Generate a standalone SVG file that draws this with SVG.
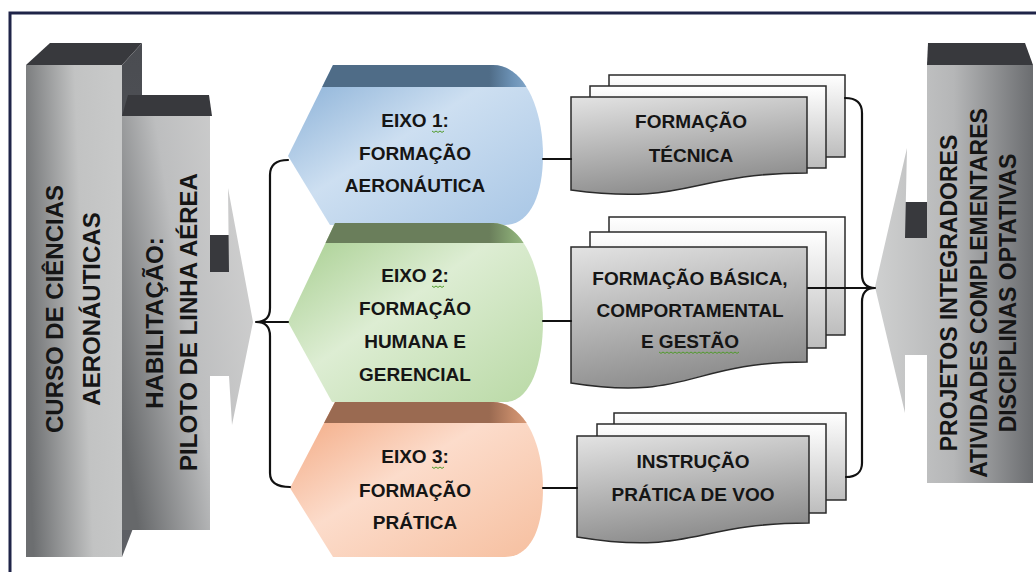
<svg xmlns="http://www.w3.org/2000/svg" width="1036" height="572" viewBox="0 0 1036 572">
<defs>
<style>
.t{font-family:"Liberation Sans",Arial,sans-serif;font-weight:700;fill:#151515;text-anchor:middle}
.hx{font-size:19px}
.lv{font-size:24px}
.rv{font-size:23px}
.top{fill:#38393d}
.doc{stroke:#2a2a2a;stroke-width:1.5}
.con{fill:none;stroke:#111;stroke-width:2.2;stroke-linecap:round}
.sq{fill:none;stroke:#4f9a2a;stroke-width:1}
</style>
<linearGradient id="gCurso" x1="0" y1="0.6" x2="1" y2="0.4">
<stop offset="0" stop-color="#6c6e70"/><stop offset="0.6" stop-color="#c2c3c3"/><stop offset="1" stop-color="#c8c9c9"/>
</linearGradient>
<linearGradient id="gSide" x1="0" y1="0" x2="0" y2="1">
<stop offset="0" stop-color="#4a4c51"/><stop offset="1" stop-color="#5e6065"/>
</linearGradient>
<linearGradient id="gHab" x1="0" y1="0.75" x2="1" y2="0.25">
<stop offset="0" stop-color="#66686a"/><stop offset="0.5" stop-color="#bdbebf"/><stop offset="1" stop-color="#d0d0d0"/>
</linearGradient>
<linearGradient id="gRight" x1="0" y1="0" x2="1" y2="0">
<stop offset="0" stop-color="#cfd0d0"/><stop offset="0.5" stop-color="#b5b6b7"/><stop offset="1" stop-color="#6b6d70"/>
</linearGradient>
<linearGradient id="gH1" x1="0" y1="0" x2="1" y2="1">
<stop offset="0" stop-color="#82abd4"/><stop offset="0.45" stop-color="#cddff1"/><stop offset="1" stop-color="#a8c6e5"/>
</linearGradient>
<linearGradient id="gB1" x1="0" y1="0" x2="1" y2="0">
<stop offset="0" stop-color="#4f6c87"/><stop offset="0.78" stop-color="#4f6c87"/><stop offset="0.87" stop-color="#6d93b7"/><stop offset="1" stop-color="#9cbfe0"/>
</linearGradient>
<linearGradient id="gH2" x1="0" y1="0" x2="1" y2="1">
<stop offset="0" stop-color="#a1cb88"/><stop offset="0.45" stop-color="#ddedd3"/><stop offset="1" stop-color="#b9d9a5"/>
</linearGradient>
<linearGradient id="gB2" x1="0" y1="0" x2="1" y2="0">
<stop offset="0" stop-color="#6a7e5b"/><stop offset="0.78" stop-color="#6a7e5b"/><stop offset="0.87" stop-color="#88a874"/><stop offset="1" stop-color="#b3d49d"/>
</linearGradient>
<linearGradient id="gH3" x1="0" y1="0" x2="1" y2="1">
<stop offset="0" stop-color="#f2a47b"/><stop offset="0.45" stop-color="#fcdccb"/><stop offset="1" stop-color="#f6bf9f"/>
</linearGradient>
<linearGradient id="gB3" x1="0" y1="0" x2="1" y2="0">
<stop offset="0" stop-color="#9a6a51"/><stop offset="0.78" stop-color="#9a6a51"/><stop offset="0.87" stop-color="#c58a69"/><stop offset="1" stop-color="#f0b08c"/>
</linearGradient>
<linearGradient id="gFront" x1="0" y1="0" x2="0.3" y2="1">
<stop offset="0" stop-color="#e3e3e3"/><stop offset="1" stop-color="#8e8e8e"/>
</linearGradient>
<linearGradient id="gBack" x1="0" y1="0" x2="0" y2="1">
<stop offset="0" stop-color="#ffffff"/><stop offset="1" stop-color="#bdbdbd"/>
</linearGradient>
<clipPath id="c1"><path d="M333,65 L493,65 C525,65 543,110 543,155 C543,195 530,225 505,225 L330,225 L288,156 Z"/></clipPath>
<clipPath id="c2"><path d="M335,223 L493,223 C525,223 543,275 543,321 C543,365 530,402 505,402 L332,402 L288,322 Z"/></clipPath>
<clipPath id="c3"><path d="M335,402 L493,402 C525,402 543,445 543,488 C543,530 530,557 505,557 L333,557 L290,488 Z"/></clipPath>
</defs>
<rect x="0" y="0" width="1036" height="572" fill="#ffffff"/>
<path d="M10,572 V13 H1036" fill="none" stroke="#1f2448" stroke-width="3"/>

<g id="curso">
<polygon class="top" points="26,65 50,43 142,43 122,65"/>
<polygon points="122,65 142,43 142,505 122,557" fill="url(#gSide)"/>
<rect x="26" y="65" width="96" height="492" fill="url(#gCurso)"/>
<text class="t lv" transform="translate(63,309) rotate(-90)">CURSO DE CIÊNCIAS</text>
<text class="t lv" transform="translate(100,309) rotate(-90)">AERONÁUTICAS</text>
</g>

<g id="habilitacao">
<polygon class="top" points="122,116 128,95 209,95 212,116"/>
<rect x="210" y="235" width="21" height="37" fill="#38393d"/>
<polygon points="122,116 210,116 210,272 229,272 228,188 253,322 232,425 229,376 210,376 210,530 122,530" fill="url(#gHab)"/>
<text class="t lv" transform="translate(163,323) rotate(-90)">HABILITAÇÃO:</text>
<text class="t lv" transform="translate(197,322) rotate(-90)">PILOTO DE LINHA AÉREA</text>
</g>

<g id="eixo1">
<path d="M333,65 L493,65 C525,65 543,110 543,155 C543,195 530,225 505,225 L330,225 L288,156 Z" fill="url(#gH1)"/>
<rect x="285" y="63" width="262" height="24" fill="url(#gB1)" clip-path="url(#c1)"/>
<text class="t hx" x="415" y="127">EIXO 1:</text>
<text class="t hx" x="415" y="160">FORMAÇÃO</text>
<text class="t hx" x="415" y="192">AERONÁUTICA</text>
<path class="sq" d="M432,131 l2,1.4 l2,-1.4 l2,1.4 l2,-1.4 l2,1.4 l2,-1.4"/>
</g>

<g id="eixo2">
<path d="M335,223 L493,223 C525,223 543,275 543,321 C543,365 530,402 505,402 L332,402 L288,322 Z" fill="url(#gH2)"/>
<rect x="285" y="221" width="262" height="22" fill="url(#gB2)" clip-path="url(#c2)"/>
<text class="t hx" x="415" y="282">EIXO 2:</text>
<text class="t hx" x="415" y="315">FORMAÇÃO</text>
<text class="t hx" x="415" y="348">HUMANA E</text>
<text class="t hx" x="415" y="381">GERENCIAL</text>
<path class="sq" d="M432,286 l2,1.4 l2,-1.4 l2,1.4 l2,-1.4 l2,1.4 l2,-1.4"/>
</g>

<g id="eixo3">
<path d="M335,402 L493,402 C525,402 543,445 543,488 C543,530 530,557 505,557 L333,557 L290,488 Z" fill="url(#gH3)"/>
<rect x="285" y="400" width="262" height="23" fill="url(#gB3)" clip-path="url(#c3)"/>
<text class="t hx" x="415" y="463">EIXO 3:</text>
<text class="t hx" x="415" y="497">FORMAÇÃO</text>
<text class="t hx" x="415" y="529">PRÁTICA</text>
<path class="sq" d="M432,467 l2,1.4 l2,-1.4 l2,1.4 l2,-1.4 l2,1.4 l2,-1.4"/>
</g>

<g id="doc1">
<rect class="doc" x="609" y="75" width="236" height="82" fill="url(#gBack)"/>
<rect class="doc" x="590" y="86" width="236" height="82" fill="url(#gBack)"/>
<path class="doc" d="M571,97 H807 V173 C689,173 689,206 571,190 Z" fill="url(#gFront)"/>
<text class="t hx" x="691" y="128">FORMAÇÃO</text>
<text class="t hx" x="691" y="162">TÉCNICA</text>
</g>

<g id="doc2">
<rect class="doc" x="609" y="217" width="236" height="118" fill="url(#gBack)"/>
<rect class="doc" x="590" y="232" width="236" height="116" fill="url(#gBack)"/>
<path class="doc" d="M571,247 H807 V362 C689,362 689,402 571,383 Z" fill="url(#gFront)"/>
<text class="t hx" x="690" y="285">FORMAÇÃO BÁSICA,</text>
<text class="t hx" x="690" y="317">COMPORTAMENTAL</text>
<text class="t hx" x="690" y="348">E GESTÃO</text>
<path class="sq" d="M659,352 l2,1.4 l2,-1.4 l2,1.4 l2,-1.4 l2,1.4 l2,-1.4 l2,1.4 l2,-1.4 l2,1.4 l2,-1.4 l2,1.4 l2,-1.4 l2,1.4 l2,-1.4 l2,1.4 l2,-1.4 l2,1.4 l2,-1.4 l2,1.4 l2,-1.4 l2,1.4 l2,-1.4 l2,1.4 l2,-1.4 l2,1.4 l2,-1.4 l2,1.4 l2,-1.4 l2,1.4 l2,-1.4 l2,1.4 l2,-1.4 l2,1.4 l2,-1.4 l2,1.4 l2,-1.4 l2,1.4 l2,-1.4 l2,1.4 l2,-1.4"/>
</g>

<g id="doc3">
<rect class="doc" x="614" y="413" width="232" height="87" fill="url(#gBack)"/>
<rect class="doc" x="597" y="424" width="229" height="89" fill="url(#gBack)"/>
<path class="doc" d="M577,436 H809 V523 C693,523 693,556 577,537 Z" fill="url(#gFront)"/>
<text class="t hx" x="693" y="468">INSTRUÇÃO</text>
<text class="t hx" x="693" y="501">PRÁTICA DE VOO</text>
</g>

<g id="complementos">
<polygon class="top" points="927,65 928,43 1025,43 1033,65"/>
<rect x="903" y="202" width="24" height="36" fill="#38393d"/>
<polygon points="927,65 1033,65 1033,483 927,483 927,355 905,355 905,413 875,287 907,148 905,238 927,238" fill="url(#gRight)"/>
<text class="t rv" transform="translate(957,293) rotate(-90)">PROJETOS INTEGRADORES</text>
<text class="t rv" transform="translate(987,293) rotate(-90)">ATIVIDADES COMPLEMENTARES</text>
<text class="t rv" transform="translate(1016,293) rotate(-90)">DISCIPLINAS OPTATIVAS</text>
</g>

<g id="connectors">
<path class="con" d="M288,160 C276,160 270,165 270,175 L270,308 C270,317 265,322 256,322 C265,322 270,327 270,336 L270,473 C270,482 276,487 290,487"/>
<path class="con" d="M256,322 H288"/>
<path class="con" d="M543,159 H571"/>
<path class="con" d="M543,321 H571"/>
<path class="con" d="M543,488 H577"/>
<path class="con" d="M845,98 C856,98 862,103 862,113 L862,274 C862,283 866,288 875,288 C866,288 862,293 862,302 L862,463 C862,472 856,477 846,477"/>
<path class="con" d="M808,288 H875"/>
</g>
</svg>
